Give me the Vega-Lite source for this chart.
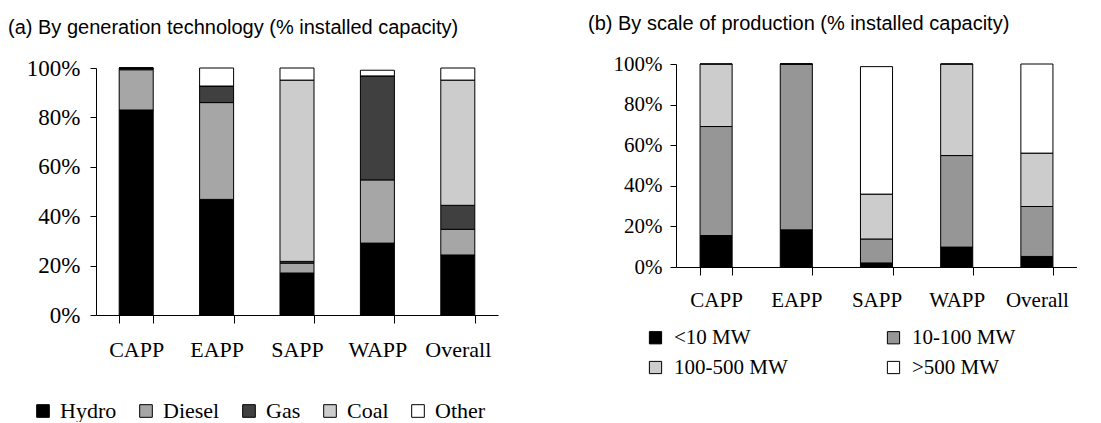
{
  "$schema": "https://vega.github.io/schema/vega-lite/v6.json",
  "background": "white",
  "padding": {"left": 8, "top": 14, "right": 0, "bottom": 0},
  "spacing": 90,
  "config": {
    "view": {"stroke": null},
    "axis": {"labelFont": "Liberation Serif", "labelColor": "#000", "domainColor": "#000", "tickColor": "#000", "grid": false, "title": null},
    "title": {"font": "Liberation Sans", "fontWeight": "normal", "color": "#000", "anchor": "start", "frame": "group"},
    "legend": {"labelFont": "Liberation Serif", "labelColor": "#000", "title": null, "symbolType": "square", "symbolStrokeColor": "#000", "symbolStrokeWidth": 1, "symbolOpacity": 1}
  },
  "resolve": {"scale": {"color": "independent"}},
  "hconcat": [
    {
      "title": {"text": "(a) By generation technology (% installed capacity)", "fontSize": 20, "dx": -88, "offset": 19},
      "width": 402,
      "height": 251,
      "data": {"values": [
        {"region": "CAPP", "tech": "Hydro", "pct": 83.0},
        {"region": "CAPP", "tech": "Diesel", "pct": 16.3},
        {"region": "CAPP", "tech": "Gas", "pct": 0.7},
        {"region": "CAPP", "tech": "Coal", "pct": 0},
        {"region": "CAPP", "tech": "Other", "pct": 0},
        {"region": "EAPP", "tech": "Hydro", "pct": 46.8},
        {"region": "EAPP", "tech": "Diesel", "pct": 39.2},
        {"region": "EAPP", "tech": "Gas", "pct": 6.7},
        {"region": "EAPP", "tech": "Coal", "pct": 0},
        {"region": "EAPP", "tech": "Other", "pct": 7.3},
        {"region": "SAPP", "tech": "Hydro", "pct": 17.0},
        {"region": "SAPP", "tech": "Diesel", "pct": 4.0},
        {"region": "SAPP", "tech": "Gas", "pct": 0.7},
        {"region": "SAPP", "tech": "Coal", "pct": 73.4},
        {"region": "SAPP", "tech": "Other", "pct": 4.9},
        {"region": "WAPP", "tech": "Hydro", "pct": 29.1},
        {"region": "WAPP", "tech": "Diesel", "pct": 25.6},
        {"region": "WAPP", "tech": "Gas", "pct": 42.1},
        {"region": "WAPP", "tech": "Coal", "pct": 0},
        {"region": "WAPP", "tech": "Other", "pct": 2.3},
        {"region": "Overall", "tech": "Hydro", "pct": 24.3},
        {"region": "Overall", "tech": "Diesel", "pct": 10.4},
        {"region": "Overall", "tech": "Gas", "pct": 9.7},
        {"region": "Overall", "tech": "Coal", "pct": 50.7},
        {"region": "Overall", "tech": "Other", "pct": 4.9}
      ]},
      "transform": [{"calculate": "indexof(['Hydro','Diesel','Gas','Coal','Other'], datum.tech)", "as": "stackOrder"}],
      "mark": {"type": "bar", "stroke": "#000", "strokeWidth": 1},
      "encoding": {
        "x": {"field": "region", "type": "nominal", "sort": ["CAPP", "EAPP", "SAPP", "WAPP", "Overall"],
              "scale": {"paddingInner": 0.577, "paddingOuter": 0.2885},
              "axis": {"labelAngle": 0, "tickBand": "extent", "tickSize": 8, "labelPadding": 16, "labelFontSize": 22, "labelFont": "Liberation Serif"}},
        "y": {"field": "pct", "type": "quantitative", "stack": "zero", "scale": {"domain": [0, 100], "nice": false, "range": [251, 4]},
              "axis": {"values": [0, 20, 40, 60, 80, 100], "labelExpr": "datum.value + '%'", "labelFontSize": 23, "labelFont": "Liberation Serif", "tickSize": 6, "labelPadding": 10}},
        "order": {"field": "stackOrder", "type": "quantitative"},
        "color": {"field": "tech", "type": "nominal", "sort": ["Hydro", "Diesel", "Gas", "Coal", "Other"],
                  "scale": {"domain": ["Hydro", "Diesel", "Gas", "Coal", "Other"], "range": ["#000000", "#a6a6a6", "#404040", "#cccccc", "#ffffff"]},
                  "legend": {"orient": "none", "direction": "horizontal", "legendX": -64, "legendY": 336, "labelFont": "Liberation Serif", "labelFontSize": 22, "symbolSize": 160, "labelOffset": 6, "columnPadding": 18}}
      }
    },
    {
      "title": {"text": "(b) By scale of production (% installed capacity)", "fontSize": 20, "dx": -88, "offset": 19},
      "width": 401,
      "height": 203,
      "data": {"values": [
        {"region": "CAPP", "size": "<10 MW", "pct": 15.5},
        {"region": "CAPP", "size": "10-100 MW", "pct": 53.7},
        {"region": "CAPP", "size": "100-500 MW", "pct": 30.8},
        {"region": "CAPP", "size": ">500 MW", "pct": 0},
        {"region": "EAPP", "size": "<10 MW", "pct": 18.3},
        {"region": "EAPP", "size": "10-100 MW", "pct": 81.7},
        {"region": "EAPP", "size": "100-500 MW", "pct": 0},
        {"region": "EAPP", "size": ">500 MW", "pct": 0},
        {"region": "SAPP", "size": "<10 MW", "pct": 2.0},
        {"region": "SAPP", "size": "10-100 MW", "pct": 11.8},
        {"region": "SAPP", "size": "100-500 MW", "pct": 22.1},
        {"region": "SAPP", "size": ">500 MW", "pct": 62.8},
        {"region": "WAPP", "size": "<10 MW", "pct": 9.8},
        {"region": "WAPP", "size": "10-100 MW", "pct": 45.1},
        {"region": "WAPP", "size": "100-500 MW", "pct": 45.1},
        {"region": "WAPP", "size": ">500 MW", "pct": 0},
        {"region": "Overall", "size": "<10 MW", "pct": 5.2},
        {"region": "Overall", "size": "10-100 MW", "pct": 24.6},
        {"region": "Overall", "size": "100-500 MW", "pct": 26.3},
        {"region": "Overall", "size": ">500 MW", "pct": 43.9}
      ]},
      "transform": [{"calculate": "indexof(['<10 MW','10-100 MW','100-500 MW','>500 MW'], datum.size)", "as": "stackOrder"}],
      "mark": {"type": "bar", "stroke": "#000", "strokeWidth": 1},
      "encoding": {
        "x": {"field": "region", "type": "nominal", "sort": ["CAPP", "EAPP", "SAPP", "WAPP", "Overall"],
              "scale": {"paddingInner": 0.6, "paddingOuter": 0.3},
              "axis": {"labelAngle": 0, "tickBand": "extent", "tickSize": 8, "labelPadding": 14, "labelFontSize": 21, "labelFont": "Liberation Serif"}},
        "y": {"field": "pct", "type": "quantitative", "stack": "zero", "scale": {"domain": [0, 100], "nice": false},
              "axis": {"values": [0, 20, 40, 60, 80, 100], "labelExpr": "datum.value + '%'", "labelFontSize": 21, "labelFont": "Liberation Serif", "tickSize": 6, "labelPadding": 8}},
        "order": {"field": "stackOrder", "type": "quantitative"},
        "color": {"field": "size", "type": "nominal", "sort": ["<10 MW", "10-100 MW", "100-500 MW", ">500 MW"],
                  "scale": {"domain": ["<10 MW", "10-100 MW", "100-500 MW", ">500 MW"], "range": ["#000000", "#969696", "#cccccc", "#ffffff"]},
                  "legend": {"orient": "none", "direction": "horizontal", "columns": 2, "legendX": -31, "legendY": 263, "labelFont": "Liberation Serif", "labelFontSize": 21, "symbolSize": 150, "labelOffset": 8, "columnPadding": 95, "rowPadding": 8}}
      }
    }
  ]
}
